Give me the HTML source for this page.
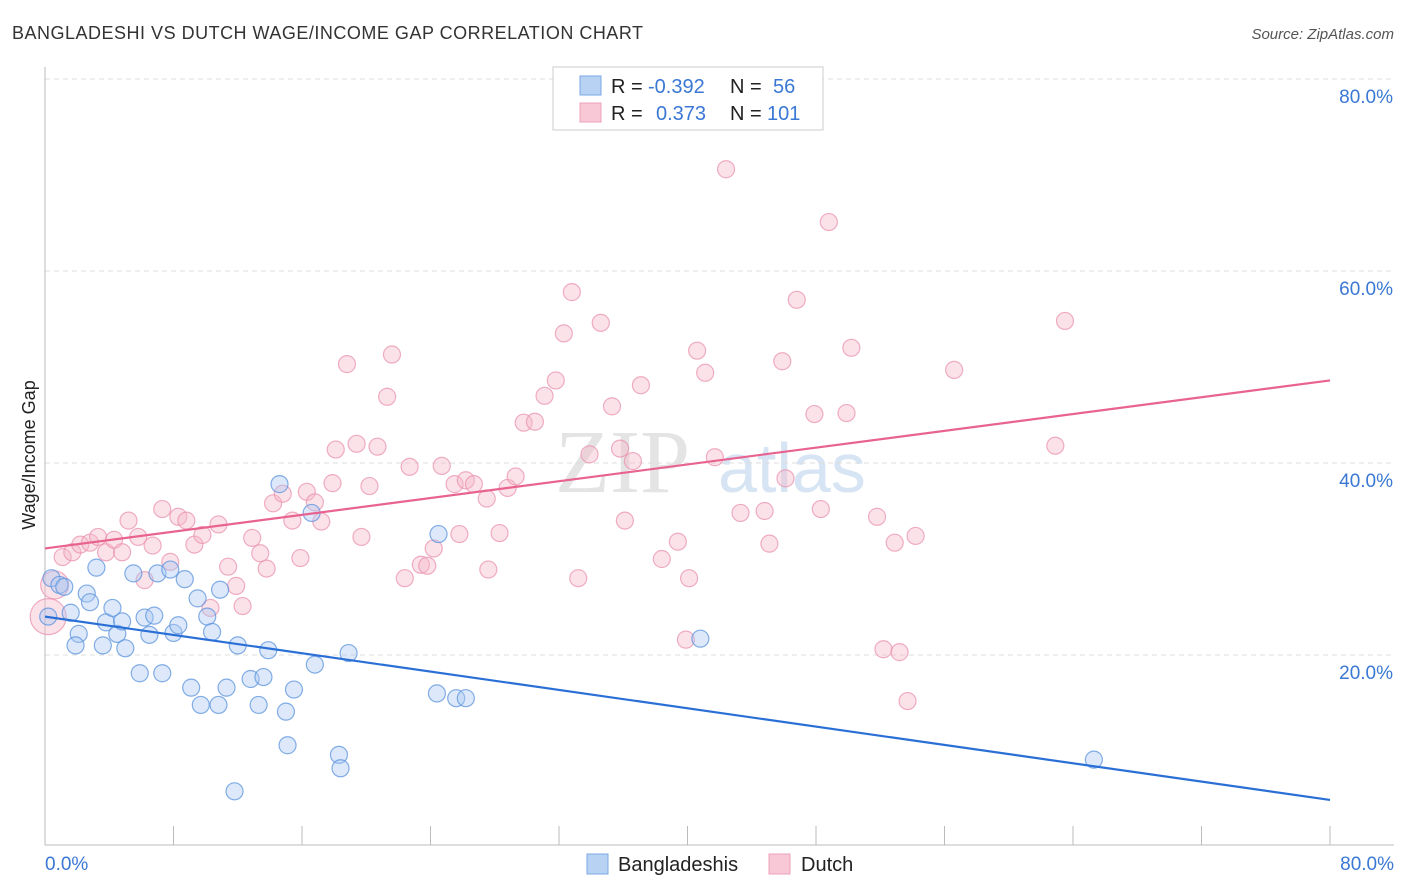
<!DOCTYPE html>
<html><head><meta charset="utf-8"><style>
body{margin:0;background:#fff;font-family:"Liberation Sans",sans-serif}
svg{display:block}
</style></head><body>
<svg id="c" width="1406" height="892">
<text x="12" y="39" font-size="18" fill="#333" textLength="631">BANGLADESHI VS DUTCH WAGE/INCOME GAP CORRELATION CHART</text>
<text x="1394" y="39" font-size="15" fill="#555" font-style="italic" text-anchor="end">Source: ZipAtlas.com</text>
<text x="35" y="455" font-size="18" fill="#222" transform="rotate(-90 35 455)" text-anchor="middle">Wage/Income Gap</text>
<text x="555" y="492" font-size="90" fill="#e4e4e4" font-family="Liberation Serif,serif">ZIP</text>
<text x="718" y="492" font-size="70" fill="#d6e4f4">atlas</text>
<g id="grid"></g><g id="pts"></g><g id="lines"></g>
<g>
<rect x="553" y="67" width="270" height="63" fill="#fff" stroke="#ccc"/>
<rect x="580" y="76" width="21" height="19" fill="#b8d2f4" stroke="#7aa8e4"/>
<rect x="580" y="103" width="21" height="19" fill="#f8c8d6" stroke="#eca0b8"/>
<text y="93" font-size="20"><tspan x="611" fill="#222">R = </tspan><tspan x="648" fill="#3a78d4">-0.392</tspan><tspan x="730" fill="#222">N = </tspan><tspan x="773" fill="#3a78d4">56</tspan></text>
<text y="120" font-size="20"><tspan x="611" fill="#222">R = </tspan><tspan x="656" fill="#3a78d4">0.373</tspan><tspan x="730" fill="#222">N = </tspan><tspan x="767" fill="#3a78d4">101</tspan></text>
</g>
<g>
<rect x="587" y="854" width="21" height="20" fill="#b8d2f4" stroke="#7aa8e4"/>
<text x="618" y="871" font-size="20" fill="#222">Bangladeshis</text>
<rect x="769" y="854" width="21" height="20" fill="#f8c8d6" stroke="#eca0b8"/>
<text x="801" y="871" font-size="20" fill="#222">Dutch</text>
</g>
</svg>
<script>
const yTicks=[20,40,60,80];
const xTickLabels=["0.0%","80.0%"];
const blueX=[0.4,0.9,1.2,1.6,2.1,1.9,2.6,2.8,3.2,3.6,3.8,4.2,4.5,4.8,5.0,5.5,5.9,6.2,6.5,6.8,7.0,7.3,7.8,8.0,8.3,8.7,9.1,9.5,9.7,10.1,10.4,10.8,10.9,11.3,11.8,12.0,12.8,13.3,13.6,13.9,14.6,15.0,15.1,15.5,16.6,16.8,18.3,18.4,18.9,24.4,24.5,25.6,26.2,40.8,65.3,0.2];
const blueY=[28.0,27.3,27.1,24.4,22.2,21.0,26.4,25.5,29.1,21.0,23.4,24.9,22.2,23.5,20.7,28.5,18.1,23.9,22.1,24.1,28.5,18.1,28.9,22.3,23.1,27.9,16.6,25.9,14.8,24.0,22.4,14.8,26.8,16.6,5.8,21.0,17.5,14.8,17.7,20.5,37.8,14.1,10.6,16.4,34.8,19.0,9.6,8.2,20.2,16.0,32.6,15.5,15.5,21.7,9.1,24.0];
const pinkX=[0.2,0.6,1.1,1.7,2.2,2.8,3.3,3.8,4.3,4.8,5.2,5.8,6.2,6.7,7.3,7.8,8.3,8.8,9.3,9.8,10.3,10.8,11.4,11.9,12.3,12.9,13.4,13.8,14.2,14.8,15.4,15.9,16.3,16.8,17.2,17.9,18.1,18.8,19.4,19.7,20.2,20.7,21.3,21.6,22.4,22.7,23.4,23.8,24.2,24.7,25.5,25.8,26.2,26.7,27.5,27.6,28.3,28.8,29.3,29.8,30.5,31.1,31.8,32.3,32.8,33.2,33.9,34.6,35.3,35.8,36.1,36.6,37.1,38.4,39.4,39.9,40.1,40.6,41.1,41.7,42.4,43.3,44.8,45.1,45.9,46.1,46.8,47.9,48.3,48.8,49.9,50.2,51.8,52.2,52.9,53.2,53.7,54.2,56.6,62.9,63.5];
const pinkY=[24.0,27.3,30.2,30.7,31.5,31.7,32.3,30.7,32.0,30.7,34.0,32.3,27.8,31.4,35.2,29.7,34.4,34.0,31.5,32.5,24.9,33.6,29.2,27.2,25.1,32.2,30.6,29.0,35.8,36.8,34.0,30.1,37.0,35.9,33.9,37.9,41.4,50.3,42.0,32.3,37.6,41.7,46.9,51.3,28.0,39.6,29.4,29.3,31.1,39.7,37.8,32.6,38.2,37.8,36.3,28.9,32.7,37.4,38.6,44.2,44.3,47.0,48.6,53.5,57.8,28.0,40.9,54.6,45.9,41.5,34.0,40.2,48.1,30.0,31.8,21.6,28.0,51.7,49.4,40.6,70.6,34.8,35.0,31.6,50.6,38.4,57.0,45.1,35.2,65.1,45.2,52.0,34.4,20.6,31.7,20.3,15.2,32.4,49.7,41.8,54.8];
const blueTrend=[24.0,4.9];
const pinkTrend=[31.1,48.6];
const NS="http://www.w3.org/2000/svg";
const sx=v=>45+v*1285/80, sy=v=>847-v*9.6;
function mk(t,a,p){const e=document.createElementNS(NS,t);for(const k in a)e.setAttribute(k,a[k]);p.appendChild(e);return e;}
const g=document.getElementById('grid');
yTicks.forEach(t=>{
 const l=mk('line',{x1:45,x2:1394,y1:sy(t),y2:sy(t),stroke:'#ddd','stroke-dasharray':'5,4'},g);
 
 
 const tx=mk('text',{x:1393,y:sy(t)+24,'font-size':19,fill:'#3a78d4','text-anchor':'end'},g);tx.textContent=t.toFixed(1)+'%';
 
 
});
const ax=mk('line',{x1:45,x2:45,y1:67,y2:845,stroke:'#bbb'},g);


const bx=mk('line',{x1:45,x2:1394,y1:845,y2:845,stroke:'#bbb'},g);


for(let i=0;i<=10;i++){const t=mk('line',{x1:sx(i*8),x2:sx(i*8),y1:826,y2:845,stroke:'#bbb'},g);
 
 }
[[0,'start',45],[80,'end',1394]].forEach((d,i)=>{const t=mk('text',{x:d[2],y:870,'font-size':19,fill:'#3a78d4','text-anchor':d[1]},g);t.textContent=xTickLabels[i];
 
 });
const P=document.getElementById('pts');
function series(X,Y,fill,stroke,name){X.forEach((x,i)=>{const r=(i==0&&name=='dutch')?18:(i==1&&name=='dutch')?14:8.5;
 const c=mk('circle',{cx:sx(x),cy:sy(Y[i]),r:r,fill:fill,'fill-opacity':0.4,stroke:stroke,'stroke-width':1.2,'stroke-opacity':0.75},P);
 
 });}
series(pinkX,pinkY,'#f5b6c9','#ea93b0','dutch');
series(blueX,blueY,'#a9c9f2','#5b93dd','bangladeshi');
const L=document.getElementById('lines');
const b=mk('line',{x1:sx(0),y1:sy(blueTrend[0]),x2:sx(80),y2:sy(blueTrend[1]),stroke:'#2a6fd6','stroke-width':2.2},L);


const p=mk('line',{x1:sx(0),y1:sy(pinkTrend[0]),x2:sx(80),y2:sy(pinkTrend[1]),stroke:'#e8638f','stroke-width':2.2},L);


</script>
</body></html>
